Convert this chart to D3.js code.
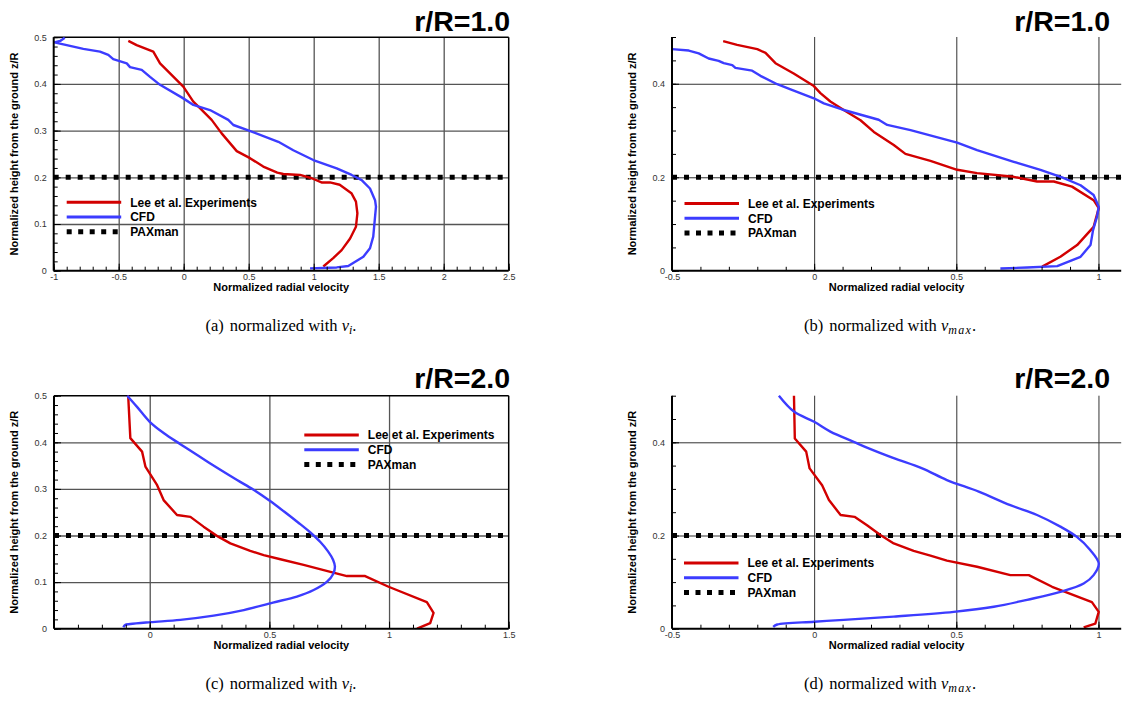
<!DOCTYPE html>
<html>
<head>
<meta charset="utf-8">
<script src="https://cdn.jsdelivr.net/npm/d3@7"></script>
<style>
  body { margin: 0; background: #fff; }
  svg { display: block; }
  .tick text { font-family: "Liberation Sans", Arial, sans-serif; font-size: 9px; fill: #333; }
</style>
</head>
<body>
<div id="chart-area"></div>
<script>
// ---- data (x = normalized radial velocity, y = z/R) ----
var paxmanHeight = 0.2;
var seriesNames = ["Lee et al. Experiments", "CFD", "PAXman"];

var leeA = [[-0.426,0.492],[-0.362,0.483],[-0.234,0.469],[-0.182,0.444],[-0.003,0.394],[0.074,0.362],[0.125,0.348],[0.215,0.323],[0.292,0.294],[0.408,0.256],[0.51,0.241],[0.612,0.223],[0.72,0.21],[0.766,0.207],[0.895,0.205],[0.985,0.198],[1.06,0.189],[1.125,0.189],[1.2,0.184],[1.29,0.166],[1.325,0.148],[1.336,0.123],[1.325,0.094],[1.28,0.069],[1.215,0.044],[1.15,0.027],[1.074,0.009]];
var cfdA = [[-0.915,0.499],[-0.95,0.492],[-0.995,0.489],[-0.9,0.483],[-0.772,0.475],[-0.644,0.469],[-0.58,0.462],[-0.542,0.453],[-0.438,0.444],[-0.413,0.436],[-0.323,0.43],[-0.259,0.415],[-0.182,0.398],[-0.003,0.369],[0.074,0.355],[0.202,0.344],[0.343,0.323],[0.382,0.312],[0.502,0.3],[0.728,0.276],[0.843,0.258],[0.997,0.237],[1.177,0.219],[1.292,0.205],[1.369,0.194],[1.433,0.176],[1.472,0.151],[1.479,0.137],[1.458,0.073],[1.433,0.048],[1.382,0.03],[1.266,0.01],[1.177,0.007],[0.972,0.005]];

var leeB = [[-0.32,0.491],[-0.271,0.483],[-0.2,0.474],[-0.171,0.466],[-0.136,0.444],[-0.072,0.422],[-0.001,0.395],[0.022,0.38],[0.057,0.362],[0.104,0.344],[0.163,0.322],[0.21,0.297],[0.28,0.269],[0.321,0.25],[0.409,0.235],[0.503,0.216],[0.573,0.209],[0.702,0.201],[0.784,0.191],[0.843,0.191],[0.907,0.18],[0.983,0.151],[1.001,0.134],[0.983,0.094],[0.925,0.055],[0.866,0.03],[0.802,0.009]];
var cfdB = [[-0.5,0.474],[-0.441,0.471],[-0.406,0.465],[-0.371,0.454],[-0.336,0.449],[-0.318,0.444],[-0.288,0.44],[-0.277,0.434],[-0.218,0.428],[-0.189,0.417],[-0.13,0.399],[-0.083,0.388],[-0.001,0.369],[0.034,0.358],[0.098,0.345],[0.227,0.323],[0.257,0.312],[0.339,0.301],[0.503,0.274],[0.573,0.258],[0.702,0.233],[0.796,0.216],[0.872,0.2],[0.937,0.183],[0.983,0.162],[1.001,0.137],[0.995,0.116],[0.981,0.087],[0.972,0.055],[0.937,0.03],[0.855,0.01],[0.749,0.007],[0.655,0.005]];

var leeC = [[-0.09,0.5],[-0.081,0.409],[-0.032,0.38],[-0.018,0.348],[0.031,0.308],[0.058,0.276],[0.114,0.244],[0.17,0.24],[0.225,0.219],[0.288,0.197],[0.337,0.183],[0.42,0.167],[0.476,0.158],[0.546,0.149],[0.643,0.137],[0.755,0.122],[0.824,0.113],[0.9,0.113],[0.998,0.09],[1.158,0.057],[1.186,0.034],[1.172,0.012],[1.117,0]];
var cfdC = [[-0.094,0.5],[-0.053,0.476],[0,0.444],[0.058,0.42],[0.128,0.396],[0.2,0.372],[0.295,0.341],[0.365,0.319],[0.434,0.298],[0.5,0.275],[0.56,0.252],[0.62,0.228],[0.67,0.207],[0.713,0.186],[0.745,0.166],[0.766,0.148],[0.774,0.133],[0.766,0.117],[0.741,0.101],[0.685,0.083],[0.615,0.069],[0.515,0.056],[0.393,0.04],[0.267,0.028],[0.128,0.019],[0.003,0.014],[-0.081,0.01],[-0.103,0.008],[-0.11,0.003]];

var leeD = [[-0.071,0.5],[-0.068,0.408],[-0.028,0.38],[-0.016,0.344],[0.028,0.308],[0.052,0.276],[0.093,0.244],[0.142,0.24],[0.186,0.222],[0.233,0.201],[0.28,0.183],[0.35,0.167],[0.409,0.157],[0.467,0.146],[0.573,0.133],[0.69,0.115],[0.755,0.115],[0.837,0.09],[0.977,0.057],[1.001,0.036],[0.989,0.011],[0.948,0.003]];
var cfdD = [[-0.124,0.5],[-0.071,0.466],[0,0.444],[0.057,0.423],[0.139,0.401],[0.192,0.387],[0.28,0.366],[0.38,0.344],[0.467,0.319],[0.579,0.294],[0.69,0.265],[0.784,0.244],[0.866,0.219],[0.924,0.197],[0.971,0.169],[1.001,0.14],[0.983,0.115],[0.948,0.097],[0.866,0.079],[0.749,0.062],[0.632,0.047],[0.491,0.036],[0.28,0.026],[0.104,0.019],[0,0.015],[-0.13,0.009],[-0.144,0.004]];

// tick labels
var xTicksA = [-1,-0.5,0,0.5,1,1.5,2,2.5];
var xTicksC = [0,0.5,1,1.5];
var xTicksBD = [-0.5,0,0.5,1];
var yTicksAC = [0,0.1,0.2,0.3,0.4,0.5];
var yTicksBD = [0,0.2,0.4];
var titles = ["r/R=1.0","r/R=1.0","r/R=2.0","r/R=2.0"];

var RED = "#d20000", BLUE = "#3c3cff";

var svg = d3.select("#chart-area").append("svg")
    .attr("width", 1125)
    .attr("height", 707);

var panels = [
  {id:"a", x0:53.7, x1:508.7, y0:37.2, y1:270.7, xDom:[-1,2.5], xTicks:xTicksA, xGrid:[-0.5,0,0.5,1,1.5,2],
   yTicks:yTicksAC, yGrid:[0.1,0.2,0.3,0.4], yMinor:0.02, frame:true, lee:leeA, cfd:cfdA, smooth:false,
   title:titles[0], titleX:510, titleY:31, legX:66.7, legY:202.3, capX:281, capY:331, sub:"i", letter:"(a)"},
  {id:"b", x0:672, x1:1121.2, y0:37.0, y1:270.8, xDom:[-0.5,1.08], xTicks:xTicksBD, xGrid:[0,0.5,1],
   yTicks:yTicksBD, yGrid:[0.2,0.4], yMinor:0.05, frame:false, lee:leeB, cfd:cfdB, smooth:false,
   title:titles[1], titleX:1110, titleY:31, legX:684.5, legY:203.5, capX:890, capY:331, sub:"max", letter:"(b)"},
  {id:"c", x0:54, x1:508.7, y0:395.7, y1:628.7, xDom:[-0.4,1.5], xTicks:xTicksC, xGrid:[0,0.5,1],
   yTicks:yTicksAC, yGrid:[0.1,0.2,0.3,0.4], yMinor:0.02, frame:true, lee:leeC, cfd:cfdC, smooth:true,
   title:titles[2], titleX:510, titleY:388, legX:304.3, legY:435, capX:281, capY:689, sub:"i", letter:"(c)"},
  {id:"d", x0:672, x1:1121.2, y0:395.7, y1:628.7, xDom:[-0.5,1.08], xTicks:xTicksBD, xGrid:[0,0.5,1],
   yTicks:yTicksBD, yGrid:[0.2,0.4], yMinor:0.05, frame:false, lee:leeD, cfd:cfdD, smooth:true,
   title:titles[3], titleX:1110, titleY:388, legX:684, legY:563, capX:890, capY:689, sub:"max", letter:"(d)"}
];

function fmt(d) { return String(d); }

panels.forEach(function(p) {
  var x = d3.scaleLinear().domain(p.xDom).range([p.x0, p.x1]);
  var y = d3.scaleLinear().domain([0,0.5]).range([p.y1, p.y0]);
  var w = p.x1 - p.x0, h = p.y1 - p.y0;
  var g = svg.append("g");

  // grid
  var gx = g.append("g").attr("transform", "translate(0," + p.y1 + ")")
      .call(d3.axisBottom(x).tickValues(p.xGrid).tickSize(-h).tickFormat(""));
  var gy = g.append("g").attr("transform", "translate(" + p.x0 + ",0)")
      .call(d3.axisLeft(y).tickValues(p.yGrid).tickSize(-w).tickFormat(""));
  [gx, gy].forEach(function(a) {
    a.select(".domain").remove();
    a.selectAll("line").attr("stroke", p.frame ? "#555" : "#333").attr("stroke-width", p.frame ? 1.3 : 1);
  });

  // frame
  if (p.frame) {
    g.append("line").attr("x1", p.x0).attr("x2", p.x1).attr("y1", p.y0).attr("y2", p.y0)
      .attr("stroke", "#000").attr("stroke-width", 1.5);
    g.append("line").attr("x1", p.x1).attr("x2", p.x1).attr("y1", p.y0).attr("y2", p.y1)
      .attr("stroke", "#000").attr("stroke-width", 1.5);
  }

  // clip
  var clipId = "clip-" + p.id;
  svg.append("clipPath").attr("id", clipId).append("rect")
      .attr("x", p.x0).attr("y", p.y0 - 2).attr("width", w).attr("height", h + 2);
  var plot = g.append("g").attr("clip-path", "url(#" + clipId + ")");

  // PAXman
  plot.append("line")
      .attr("x1", x(p.xDom[0])).attr("x2", x(p.xDom[1]))
      .attr("y1", y(paxmanHeight)).attr("y2", y(paxmanHeight))
      .attr("stroke", "#000").attr("stroke-width", 5).attr("stroke-dasharray", "5,7");

  var lineLee = d3.line().x(function(d){return x(d[0]);}).y(function(d){return y(d[1]);});
  var lineCfd = d3.line().x(function(d){return x(d[0]);}).y(function(d){return y(d[1]);})
      .curve(p.smooth ? d3.curveCatmullRom.alpha(0.5) : d3.curveLinear);

  plot.append("path").datum(p.lee).attr("d", lineLee)
      .attr("fill", "none").attr("stroke", RED).attr("stroke-width", 2.4).attr("stroke-linejoin", "round");
  plot.append("path").datum(p.cfd).attr("d", lineCfd)
      .attr("fill", "none").attr("stroke", BLUE).attr("stroke-width", 2.4).attr("stroke-linejoin", "round");

  // axes
  var minorX = d3.range(Math.ceil(p.xDom[0]*10), Math.floor(p.xDom[1]*10) + 1).map(function(v){return v/10;});
  var minorY = d3.range(0, 0.5 + 1e-9, p.yMinor).map(function(v){return +v.toFixed(3);});

  var axMinorX = g.append("g").attr("transform", "translate(0," + p.y1 + ")")
      .call(d3.axisBottom(x).tickValues(minorX).tickSize(-4).tickFormat(""));
  var axMinorY = g.append("g").attr("transform", "translate(" + p.x0 + ",0)")
      .call(d3.axisLeft(y).tickValues(minorY).tickSize(-4).tickFormat(""));
  [axMinorX, axMinorY].forEach(function(a){ a.select(".domain").remove(); a.selectAll("line").attr("stroke", "#000"); });

  var axX = g.append("g").attr("transform", "translate(0," + p.y1 + ")")
      .call(d3.axisBottom(x).tickValues(p.xTicks).tickSize(-7).tickPadding(3).tickFormat(fmt).tickSizeOuter(0));
  var axY = g.append("g").attr("transform", "translate(" + p.x0 + ",0)")
      .call(d3.axisLeft(y).tickValues(p.yTicks).tickSize(-7).tickPadding(7).tickFormat(fmt).tickSizeOuter(0));
  [axX, axY].forEach(function(a){
    a.select(".domain").attr("stroke", "#000").attr("stroke-width", 2);
    a.selectAll(".tick line").attr("stroke", "#000").attr("stroke-width", 1);
  });
  axX.select(".domain").attr("d", "M" + p.x0 + ",0H" + p.x1);
  axY.select(".domain").attr("d", "M0," + p.y1 + "V" + p.y0);

  // axis titles
  g.append("text")
      .attr("x", (p.x0 + p.x1) / 2).attr("y", p.y1 + 20.5)
      .attr("text-anchor", "middle")
      .style("font-family", "Liberation Sans, Arial, sans-serif").style("font-size", "11px").style("font-weight", "bold")
      .text("Normalized radial velocity");
  g.append("text")
      .attr("transform", "translate(" + (p.x0 - 36) + "," + ((p.y0 + p.y1) / 2) + ") rotate(-90)")
      .attr("text-anchor", "middle")
      .style("font-family", "Liberation Sans, Arial, sans-serif").style("font-size", "11px").style("font-weight", "bold")
      .text("Normalized height from the ground z/R");

  // panel title
  g.append("text")
      .attr("x", p.titleX).attr("y", p.titleY)
      .attr("text-anchor", "end")
      .style("font-family", "Liberation Sans, Arial, sans-serif").style("font-size", "28.5px").style("font-weight", "bold")
      .text(p.title);

  // legend
  var leg = g.append("g");
  var styles = [
    {stroke: RED, width: 3, dash: null},
    {stroke: BLUE, width: 3, dash: null},
    {stroke: "#000", width: 5, dash: "5,6.5"}
  ];
  seriesNames.forEach(function(name, i) {
    var ly = p.legY + i * 14.7;
    var l = leg.append("line").attr("x1", p.legX).attr("x2", p.legX + 54.5)
        .attr("y1", ly).attr("y2", ly)
        .attr("stroke", styles[i].stroke).attr("stroke-width", styles[i].width);
    if (styles[i].dash) l.attr("stroke-dasharray", styles[i].dash);
    leg.append("text").attr("x", p.legX + 63.5).attr("y", ly + 4.3)
        .style("font-family", "Liberation Sans, Arial, sans-serif").style("font-size", "12px").style("font-weight", "bold")
        .text(name);
  });

  // caption
  var cap = svg.append("text")
      .attr("x", p.capX).attr("y", p.capY)
      .attr("text-anchor", "middle")
      .style("font-family", "Liberation Serif, 'Times New Roman', serif").style("font-size", "16.5px");
  cap.append("tspan").text(p.letter);
  cap.append("tspan").attr("dx", 6).text("normalized with ");
  cap.append("tspan").style("font-style", "italic").text("v");
  cap.append("tspan").style("font-style", "italic").style("font-size", "12px")
      .style("letter-spacing", p.sub === "max" ? "1.2px" : "0px")
      .attr("dy", 3).text(p.sub);
  cap.append("tspan").attr("dy", -3).text(".");
});
</script>
</body>
</html>
